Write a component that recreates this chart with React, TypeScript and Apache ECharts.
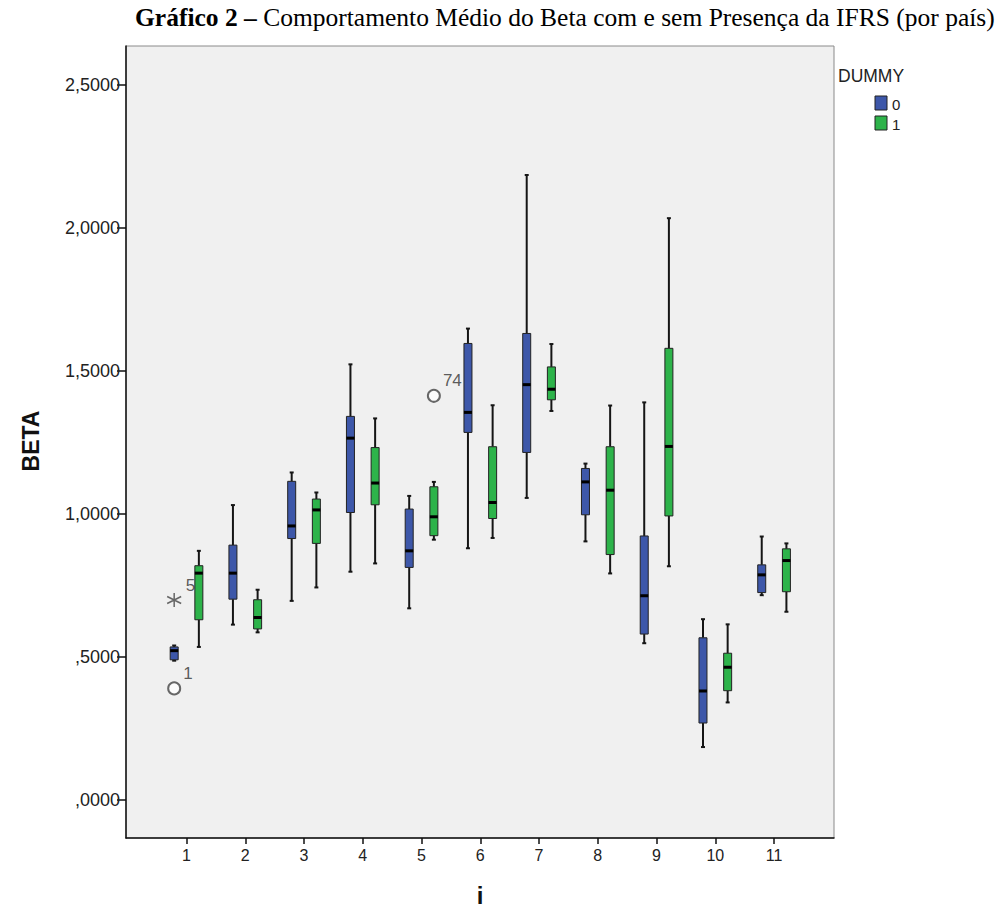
import React, { useEffect, useRef } from "react";
import * as echarts from "echarts";

// Country index (i) and axis ticks
const categories = [1, 2, 3, 4, 5, 6, 7, 8, 9, 10, 11];
const yTicks = [0, 0.5, 1, 1.5, 2, 2.5];

// DUMMY = 0 : whisker low, Q1, median, Q3, whisker high
const low0 = [0.487, 0.613, 0.696, 0.798, 0.67, 0.88, 1.056, 0.904, 0.548, 0.185, 0.716];
const q1_0 = [0.49, 0.702, 0.914, 1.005, 0.813, 1.285, 1.215, 0.997, 0.58, 0.269, 0.725];
const med0 = [0.522, 0.793, 0.958, 1.265, 0.871, 1.355, 1.452, 1.112, 0.714, 0.381, 0.787];
const q3_0 = [0.535, 0.891, 1.114, 1.341, 1.017, 1.596, 1.631, 1.159, 0.923, 0.567, 0.822];
const high0 = [0.54, 1.031, 1.145, 1.523, 1.063, 1.648, 2.185, 1.176, 1.39, 0.632, 0.921];

// DUMMY = 1
const low1 = [0.535, 0.586, 0.743, 0.827, 0.91, 0.916, 1.36, 0.792, 0.817, 0.341, 0.658];
const q1_1 = [0.63, 0.598, 0.897, 1.032, 0.924, 0.984, 1.399, 0.858, 0.993, 0.382, 0.728];
const med1 = [0.793, 0.638, 1.014, 1.108, 0.99, 1.04, 1.436, 1.083, 1.236, 0.464, 0.837];
const q3_1 = [0.819, 0.7, 1.052, 1.232, 1.095, 1.235, 1.514, 1.235, 1.579, 0.513, 0.878];
const high1 = [0.871, 0.735, 1.075, 1.334, 1.112, 1.38, 1.594, 1.379, 2.034, 0.614, 0.897];

// Outliers (circle) and extreme values (star), with their case numbers
const outlierCat = [1, 5];
const outlierDummy = [0, 1];
const outlierValue = [0.39, 1.413];
const outlierCase = ["1", "74"];

const extremeCat = [1];
const extremeDummy = [0];
const extremeValue = [0.699];
const extremeCase = ["5"];

const BLUE = "#3d57a9";
const GREEN = "#2db34a";
const SIDE_OFFSET = 0.21; // horizontal shift of each DUMMY box from the tick
const BOX_W = 8;

const SANS = "'Liberation Sans', Arial, sans-serif";
const SERIF = "'Liberation Serif', 'Times New Roman', serif";

function boxData(low: number[], q1: number[], med: number[], q3: number[], high: number[]) {
  return categories.map((c, k) => [c, low[k], q1[k], med[k], q3[k], high[k]]);
}

function makeRenderer(color: string, side: number) {
  return (_params: any, api: any) => {
    const x = api.value(0) + side * SIDE_OFFSET;
    const p = (v: number) => api.coord([x, v]);
    const [cx, yLow] = p(api.value(1));
    const yQ1 = p(api.value(2))[1];
    const yMed = p(api.value(3))[1];
    const yQ3 = p(api.value(4))[1];
    const yHigh = p(api.value(5))[1];
    const stroke = { stroke: "#151515", lineWidth: 2 };
    return {
      type: "group",
      children: [
        { type: "line", shape: { x1: cx, y1: yHigh, x2: cx, y2: yQ3 }, style: stroke },
        { type: "line", shape: { x1: cx, y1: yQ1, x2: cx, y2: yLow }, style: stroke },
        { type: "line", shape: { x1: cx - 2, y1: yHigh, x2: cx + 2, y2: yHigh }, style: stroke },
        { type: "line", shape: { x1: cx - 2, y1: yLow, x2: cx + 2, y2: yLow }, style: stroke },
        {
          type: "rect",
          shape: { x: cx - BOX_W / 2, y: yQ3, width: BOX_W, height: Math.max(yQ1 - yQ3, 1) },
          style: { fill: color, stroke: "#222", lineWidth: 1 },
        },
        {
          type: "rect",
          shape: { x: cx - BOX_W / 2, y: yMed - 1.5, width: BOX_W, height: 3 },
          style: { fill: "#000" },
        },
      ],
    };
  };
}

function fmtY(v: number) {
  let s = v.toFixed(4).replace(".", ",");
  if (s.startsWith("0")) s = s.slice(1);
  return s;
}

export default function App() {
  const ref = useRef<HTMLDivElement>(null);

  useEffect(() => {
    if (!ref.current) return;
    const chart = echarts.init(ref.current, undefined, { renderer: "svg" });

    const outliers = outlierCat.map((c, k) => ({
      value: [c + (outlierDummy[k] === 0 ? -1 : 1) * SIDE_OFFSET, outlierValue[k]],
      label: { formatter: outlierCase[k] },
    }));
    const extremes = extremeCat.map((c, k) => ({
      value: [c + (extremeDummy[k] === 0 ? -1 : 1) * SIDE_OFFSET, extremeValue[k]],
      label: { formatter: extremeCase[k] },
    }));

    const pointLabel = {
      show: true,
      position: "right",
      distance: 2,
      offset: [0, -15],
      color: "#333",
      fontFamily: SANS,
      fontSize: 17,
    };

    chart.setOption({
      animation: false,
      backgroundColor: "#ffffff",
      title: {
        text: "{b|Gráfico 2 –} Comportamento Médio do Beta com e sem Presença da IFRS (por país)",
        left: 130,
        top: -1,
        textStyle: {
          fontFamily: SERIF,
          fontSize: 25.5,
          fontWeight: "normal",
          color: "#000",
          rich: {
            b: { fontFamily: SERIF, fontSize: 25.5, fontWeight: "bold", color: "#000" },
          },
        },
      },
      grid: {
        left: 126,
        top: 46,
        width: 708,
        height: 792,
        show: true,
        backgroundColor: "#f0f0f0",
        borderColor: "#8a8a8a",
        borderWidth: 1,
      },
      xAxis: {
        type: "value",
        min: -0.03,
        max: 12.02,
        splitLine: { show: false },
        axisLine: { show: true, onZero: false, lineStyle: { color: "#111", width: 1.5 } },
        axisTick: {
          show: true,
          customValues: categories,
          length: 6,
          lineStyle: { color: "#111", width: 1.5 },
        },
        axisLabel: {
          customValues: categories,
          formatter: (v: number) => String(v),
          color: "#222",
          fontFamily: SANS,
          fontSize: 16,
          margin: 9,
        },
      },
      yAxis: {
        type: "value",
        min: -0.133,
        max: 2.636,
        splitLine: { show: false },
        axisLine: { show: true, onZero: false, lineStyle: { color: "#111", width: 1.5 } },
        axisTick: {
          show: true,
          customValues: yTicks,
          length: 9,
          lineStyle: { color: "#111", width: 1.5 },
        },
        axisLabel: {
          customValues: yTicks,
          formatter: fmtY,
          color: "#222",
          fontFamily: SANS,
          fontSize: 18,
          margin: 6,
        },
      },
      graphic: [
        {
          type: "text",
          x: 31,
          y: 441,
          rotation: Math.PI / 2,
          style: {
            text: "BETA",
            font: `bold 23px ${SANS}`,
            fill: "#111",
            align: "center",
            verticalAlign: "middle",
          },
        },
        {
          type: "text",
          x: 480,
          y: 895,
          style: {
            text: "i",
            font: `bold 24px ${SANS}`,
            fill: "#111",
            align: "center",
            verticalAlign: "middle",
          },
        },
        {
          type: "text",
          x: 838,
          y: 76,
          style: { text: "DUMMY", font: `17.5px ${SANS}`, fill: "#222", verticalAlign: "middle" },
        },
        {
          type: "rect",
          shape: { x: 875, y: 96, width: 12, height: 14 },
          style: { fill: BLUE, stroke: "#222", lineWidth: 1 },
        },
        {
          type: "text",
          x: 892,
          y: 104,
          style: { text: "0", font: `15px ${SANS}`, fill: "#222", verticalAlign: "middle" },
        },
        {
          type: "rect",
          shape: { x: 875, y: 116, width: 12, height: 14 },
          style: { fill: GREEN, stroke: "#222", lineWidth: 1 },
        },
        {
          type: "text",
          x: 892,
          y: 124,
          style: { text: "1", font: `15px ${SANS}`, fill: "#222", verticalAlign: "middle" },
        },
      ],
      series: [
        {
          name: "0",
          type: "custom",
          renderItem: makeRenderer(BLUE, -1),
          data: boxData(low0, q1_0, med0, q3_0, high0),
          encode: { x: 0, y: [1, 2, 3, 4, 5] },
          z: 3,
        },
        {
          name: "1",
          type: "custom",
          renderItem: makeRenderer(GREEN, 1),
          data: boxData(low1, q1_1, med1, q3_1, high1),
          encode: { x: 0, y: [1, 2, 3, 4, 5] },
          z: 3,
        },
        {
          type: "scatter",
          symbol: "emptyCircle",
          symbolSize: 12,
          itemStyle: { color: "#444", borderColor: "#444", borderWidth: 1.6 },
          label: pointLabel,
          data: outliers,
          z: 4,
        },
        {
          type: "scatter",
          symbol: "path://M0,-6L0,6M-5.2,-3L5.2,3M-5.2,3L5.2,-3",
          symbolSize: 14,
          itemStyle: { color: "none", borderColor: "#444", borderWidth: 1.5 },
          label: pointLabel,
          data: extremes,
          z: 4,
        },
      ],
    });

    return () => chart.dispose();
  }, []);

  return (
    <div
      ref={ref}
      style={{ position: "absolute", left: 0, top: 0, width: 1004, height: 915 }}
    />
  );
}
